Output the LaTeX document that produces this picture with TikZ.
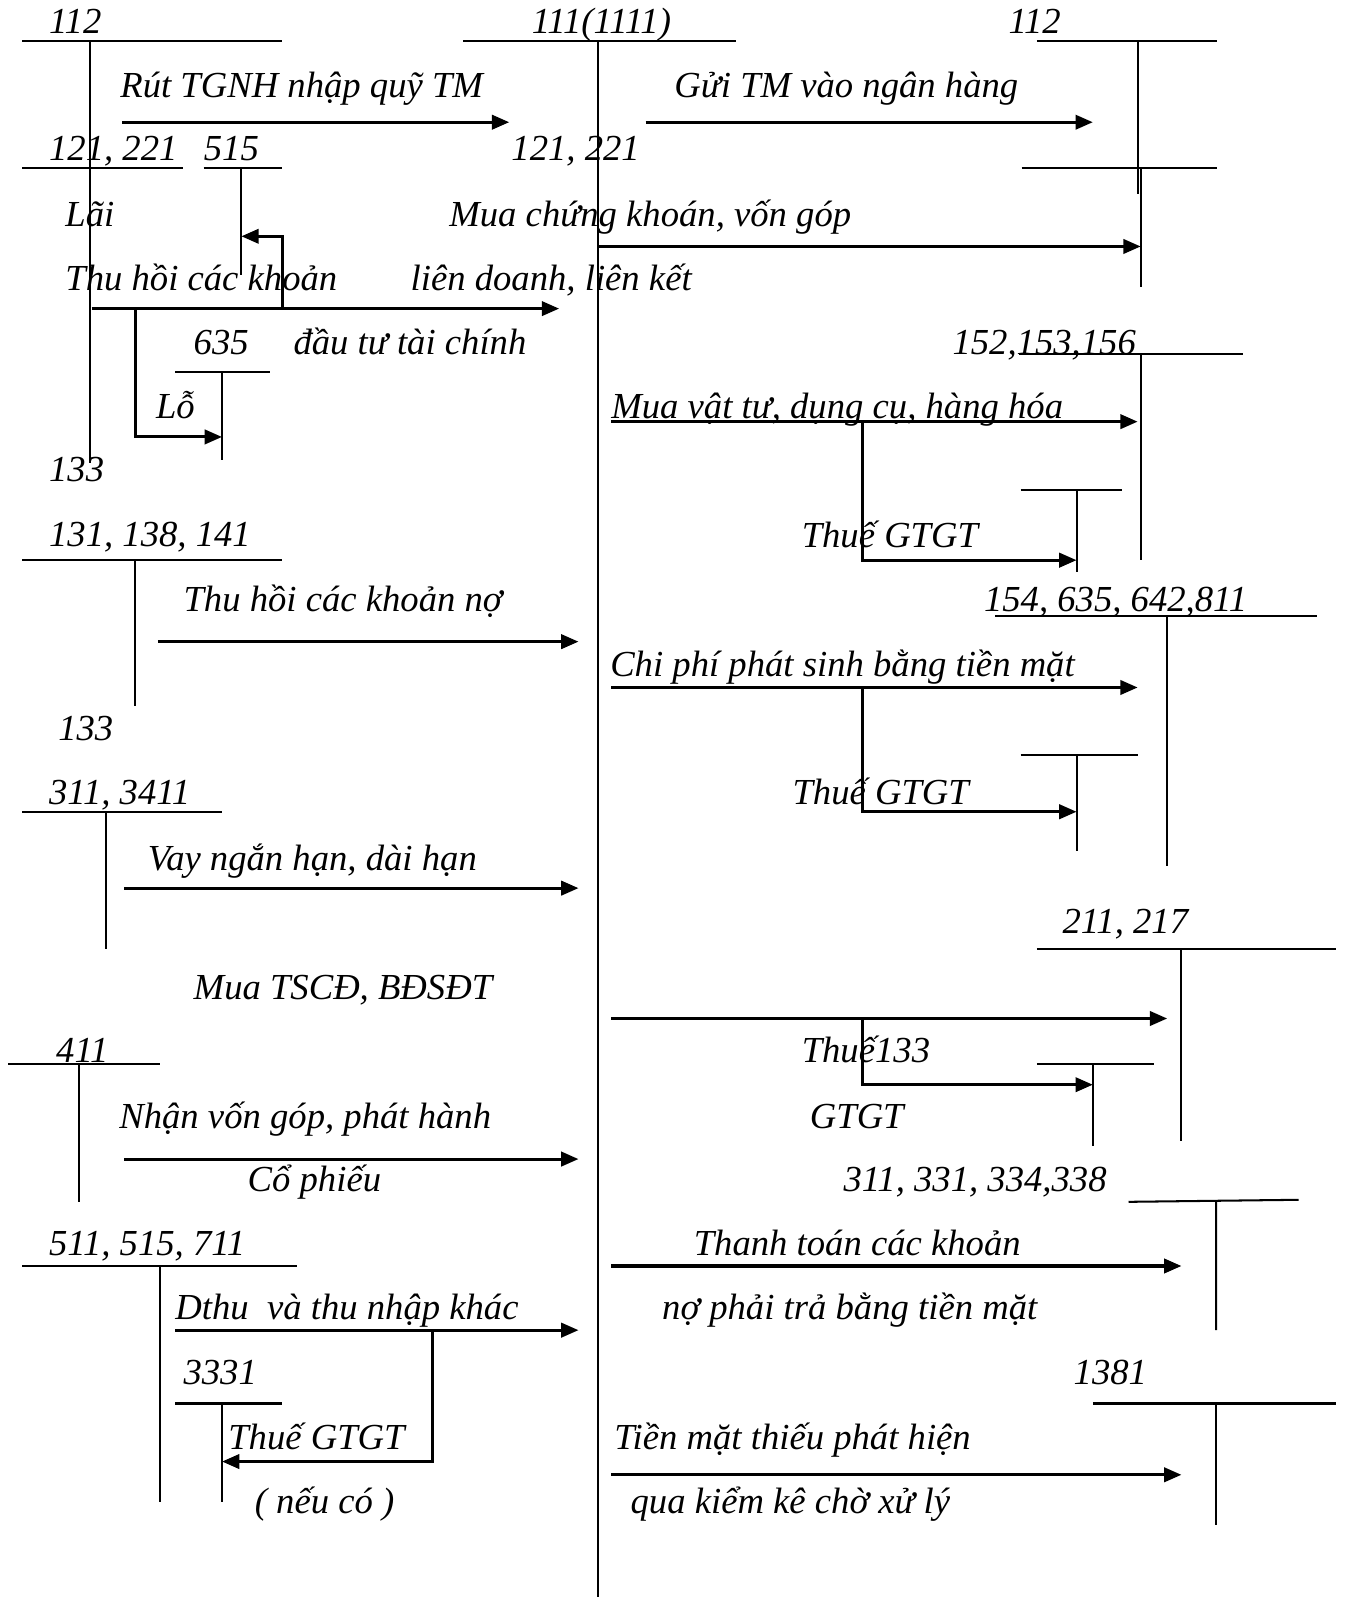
\documentclass[tikz,border=0pt]{standalone}
\usepackage{fontspec}
\setmainfont{Liberation Serif}
\usetikzlibrary{arrows.meta}

\begin{document}
\begin{tikzpicture}[x=1pt,y=-1pt,
  lbl/.style={anchor=base west, inner sep=0pt, font=\fontsize{36}{40}\selectfont\itshape},
  tline/.style={line width=2pt},
  arrow/.style={-{Triangle[length=17pt,width=14pt]}, line width=3pt}
]
\useasboundingbox (0,0) rectangle (1321,1568);

% T accounts
\node[lbl] (a112l) at (48,33) {112};
\draw[tline] (22,40) -- (277,40) (88,40) -- (88,455);
\node[lbl] (a111) at (522,33) {111(1111)};
\draw[tline] (455,40) -- (723,40) (587,40) -- (587,1568);
\node[lbl] (a112r) at (990,33) {112};
\draw[tline] (1018,40) -- (1195,40) (1117,40) -- (1117,190);

\node[lbl] (a121l) at (48,158) {121, 221};
\draw[tline] (22,165) -- (180,165);
\node[lbl] (a515) at (200,158) {515};
\draw[tline] (200,165) -- (277,165) (237,165) -- (237,270);
\node[lbl] (a121r) at (502,158) {121, 221};
\draw[tline] (1003,165) -- (1195,165) (1120,165) -- (1120,282);

\node[lbl] (a635) at (190,348) {635};
\draw[tline] (172,365) -- (265,365) (218,365) -- (218,452);
\node[lbl] (a152) at (935,348) {152,153,156};
\draw[tline] (1000,348) -- (1220,348) (1120,348) -- (1120,550);
\draw[tline] (1002,481) -- (1102,481) (1057,481) -- (1057,562);

\node[lbl] (a133a) at (48,473) {133};
\node[lbl] (a131) at (48,537) {131, 138, 141};
\draw[tline] (22,550) -- (277,550) (133,550) -- (133,693);
\node[lbl] (a154) at (966,600) {154, 635, 642,811};
\draw[tline] (977,605) -- (1293,605) (1146,605) -- (1146,850);
\draw[tline] (1002,741) -- (1117,741) (1057,741) -- (1057,836);

\node[lbl] (a133b) at (57,727) {133};
\node[lbl] (a311) at (48,790) {311, 3411};
\draw[tline] (22,797) -- (218,797) (104,797) -- (104,932);
\node[lbl] (a211) at (1043,917) {211, 217};
\draw[tline] (1018,932) -- (1312,932) (1160,932) -- (1160,1120);
\draw[tline] (1018,1045) -- (1133,1045) (1073,1045) -- (1073,1125);

\node[lbl] (a411) at (55,1043) {411};
\draw[tline] (8,1045) -- (157,1045) (78,1045) -- (78,1180);
\node[lbl] (a331) at (828,1170) {311, 331, 334,338};
\draw[tline] (1108,1180) -- (1275,1178) (1194,1180) -- (1194,1306);
\node[lbl] (a511) at (48,1233) {511, 515, 711};
\draw[tline] (22,1243) -- (292,1243) (157,1243) -- (157,1475);
\node[lbl] (a3331) at (180,1359) {3331};
\draw[tline] (172,1378) -- (277,1378) (218,1378) -- (218,1475);
\node[lbl] (a1381) at (1054,1359) {1381};
\draw[tline] (1073,1378) -- (1312,1378) (1194,1378) -- (1194,1497);

% entries into 111
\node[lbl] (rut) at (118,96) {Rút TGNH nhập quỹ TM};
\draw[arrow] (120,120) -- (500,120);
\node[lbl] (lai) at (64,222) {Lãi};
\node[lbl] (thuhoi) at (64,285) {Thu hồi các khoản};
\node[lbl] (dautu) at (288,348) {đầu tư tài chính};
\draw[arrow] (90,303) -- (549,303);
\draw[arrow] (277,303) -- (277,232) -- (237,232);
\node[lbl] (lo) at (153,411) {Lỗ};
\draw[arrow] (133,303) -- (133,429) -- (218,429);
\node[lbl] (thuno) at (180,600) {Thu hồi các khoản nợ};
\draw[arrow] (155,630) -- (568,630);
\node[lbl] (vay) at (145,855) {Vay ngắn hạn, dài hạn};
\draw[arrow] (122,872) -- (568,872);
\node[lbl] (muats) at (190,981) {Mua TSCĐ, BĐSĐT};
\node[lbl] (nhanvon) at (117,1108) {Nhận vốn góp, phát hành};
\node[lbl] (cophieu) at (243,1170) {Cổ phiếu};
\draw[arrow] (122,1138) -- (568,1138);
\node[lbl] (dthu) at (172,1296) {Dthu\ \ và thu nhập khác};
\draw[arrow] (172,1306) -- (568,1306);
\node[lbl] (thue3331) at (224,1423) {Thuế GTGT};
\node[lbl] (neuco) at (250,1486) {( nếu có )};
\draw[arrow] (425,1306) -- (425,1435) -- (218,1435);

% entries out of 111
\node[lbl] (gui) at (662,96) {Gửi TM vào ngân hàng};
\draw[arrow] (634,120) -- (1073,120);
\node[lbl] (muack) at (441,222) {Mua chứng khoán, vốn góp};
\node[lbl] (lienket) at (403,285) {liên doanh, liên kết};
\draw[arrow] (587,242) -- (1120,242);
\node[lbl] (muavt) at (600,411) {Mua vật tư, dụng cụ, hàng hóa};
\draw[arrow] (600,414) -- (1117,414);
\node[lbl] (thue1) at (787,538) {Thuế GTGT};
\draw[arrow] (847,414) -- (847,550) -- (1057,550);
\node[lbl] (chiphi) at (599,664) {Chi phí phát sinh bằng tiền mặt};
\draw[arrow] (600,675) -- (1117,675);
\node[lbl] (thue2) at (778,790) {Thuế GTGT};
\draw[arrow] (847,675) -- (847,797) -- (1057,797);
\draw[arrow] (600,1000) -- (1146,1000);
\node[lbl] (thue133) at (787,1043) {Thuế133};
\node[lbl] (gtgt) at (795,1108) {GTGT};
\draw[arrow] (847,1000) -- (847,1065) -- (1073,1065);
\node[lbl] (thanhtoan) at (681,1233) {Thanh toán các khoản};
\node[lbl] (nophaitra) at (650,1296) {nợ phải trả bằng tiền mặt};
\draw[arrow] (600,1243) -- (1160,1243);
\node[lbl] (tienthieu) at (603,1423) {Tiền mặt thiếu phát hiện};
\node[lbl] (kiemke) at (619,1486) {qua kiểm kê chờ xử lý};
\draw[arrow] (600,1448) -- (1160,1448);
\end{tikzpicture}
\end{document}
